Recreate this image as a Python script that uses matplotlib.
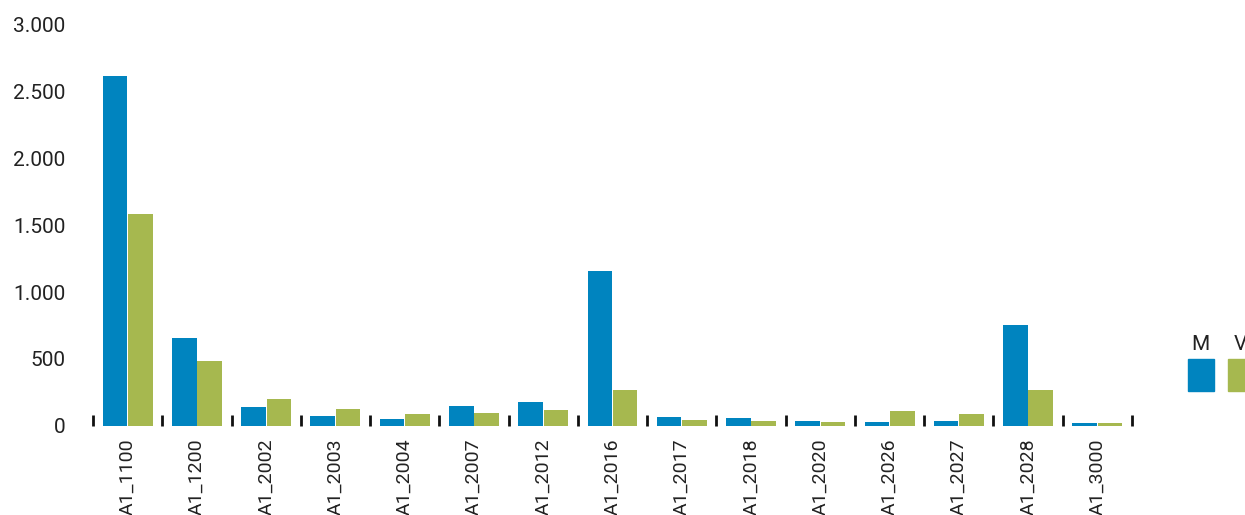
import matplotlib.pyplot as plt
import matplotlib.ticker as mticker
from matplotlib.patches import Rectangle
import numpy as np

plt.rcParams['font.family'] = ['Roboto', 'DejaVu Sans']

categories = ['A1_1100', 'A1_1200', 'A1_2002', 'A1_2003', 'A1_2004', 'A1_2007', 'A1_2012',
              'A1_2016', 'A1_2017', 'A1_2018', 'A1_2020', 'A1_2026', 'A1_2027', 'A1_2028', 'A1_3000']
m_vals = [2615, 658, 142, 73, 50, 147, 177, 1158, 65, 58, 35, 28, 35, 754, 20]
v_vals = [1583, 488, 202, 125, 88, 95, 118, 267, 43, 35, 28, 110, 88, 267, 20]
series_names = ['M', 'V']
colors = ['#0084BF', '#A6B84F']

fig = plt.figure(figsize=(12.45, 5.15), dpi=100)
ax = fig.add_axes([0.0747, 0.1734, 0.8345, 0.7781])

x = np.arange(len(categories))
w = 0.355
ax.bar(x - 0.183, m_vals, w, color=colors[0], edgecolor='none')
ax.bar(x + 0.183, v_vals, w, color=colors[1], edgecolor='none')

ax.set_xlim(-0.5, len(categories) - 0.5)
ax.set_ylim(0, 3000)
ax.yaxis.set_major_locator(mticker.MultipleLocator(500))
ax.yaxis.set_major_formatter(mticker.FuncFormatter(lambda v, p: f'{int(v):,}'.replace(',', '.')))

# category labels centred, boundary ticks as minor ticks
ax.set_xticks(x)
ax.set_xticklabels(categories, rotation=90)
ax.set_xticks(np.arange(-0.5, len(categories)), minor=True)
ax.tick_params(axis='x', which='major', length=0, pad=9, labelsize=14, labelcolor='#222222')
ax.tick_params(axis='x', which='minor', direction='in', length=8, width=2, color='#111111')
ax.tick_params(axis='y', length=0, pad=20, labelsize=15, labelcolor='#222222')

for s in ax.spines.values():
    s.set_visible(False)

# legend: label above colour block
for i, name in enumerate(series_names):
    x0 = 1188 + i * 40
    fig.patches.append(Rectangle((x0 / 1245, (515 - 391) / 515), 26 / 1245, 32 / 515,
                                 transform=fig.transFigure, color=colors[i]))
    fig.text((x0 + 12) / 1245, (515 - 345) / 515, name, ha='center', va='center',
             fontsize=15, color='#222222')

fig.savefig('out.png', dpi=100)
